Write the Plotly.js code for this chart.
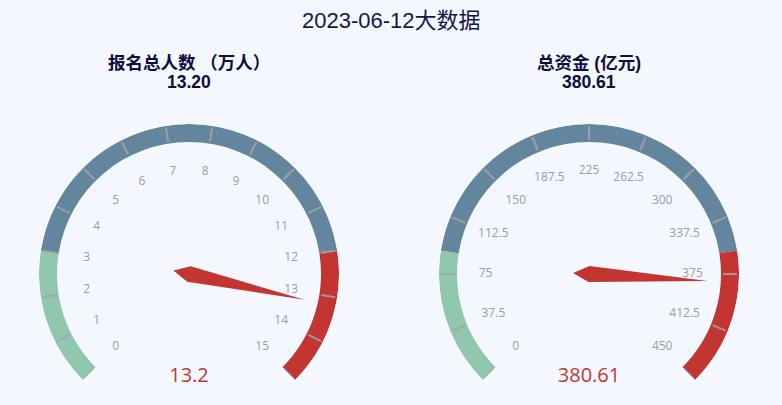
<!DOCTYPE html>
<html>
<head>
<meta charset="utf-8">
<script src="https://cdn.plot.ly/plotly-3.0.1.min.js"></script>
<style>
  html, body { margin: 0; padding: 0; background: #f4f7fe; }
  #chart { width: 782px; height: 405px; }
</style>
</head>
<body>
<div id="chart"></div>
<script>
// chart data
const chartTitle = '2023-06-12大数据';
const gaugeTitles = ['报名总人数 （万人）', '总资金 (亿元)'];
const gaugeSubtitles = ['13.20', '380.61'];
const gaugeValues = [13.2, 380.61];
const gaugeValueText = ['13.2', '380.61'];
const gaugeMax = [15, 450];
const ticksPeople = ['0', '1', '2', '3', '4', '5', '6', '7', '8', '9', '10', '11', '12', '13', '14', '15'];
const ticksMoney = ['0', '37.5', '75', '112.5', '150', '187.5', '225', '262.5', '300', '337.5', '375', '412.5', '450'];
const bandStops = [0, 0.2, 0.8, 1];
const bandColors = ['#91c7ae', '#63869e', '#c23531'];

const SPAN = 270;           // gauge sweeps from 225deg to -45deg, clockwise
const RING_IN = 0.88;
const NEEDLE_LEN = 0.79;
const LABEL_R = 0.69;
const R_PX = 150;           // outer ring radius in px
const INNER_PX = 125;       // radius of the full-circle subplot holding needle + value
const tickSets = [ticksPeople, ticksMoney];
const ringPlots = ['polar', 'polar2'];
const needlePlots = ['polar3', 'polar4'];
const centersX = [189, 589];
const centerY = 274;
const W = 782, H = 405;

const toTheta = (v, max) => v / max * SPAN;

function gaugeTraces(i) {
  const sp = ringPlots[i];
  const np = needlePlots[i];
  const max = gaugeMax[i];
  const labels = tickSets[i];
  const n = labels.length - 1;
  const traces = [];

  // coloured ring
  traces.push({
    type: 'barpolar', subplot: sp,
    r: bandColors.map(() => 1 - RING_IN),
    base: bandColors.map(() => RING_IN),
    theta: bandColors.map((_, k) => (bandStops[k] + bandStops[k + 1]) / 2 * SPAN),
    width: bandColors.map((_, k) => (bandStops[k + 1] - bandStops[k]) * SPAN),
    marker: { color: bandColors, line: { width: 0 } },
    hoverinfo: 'skip', showlegend: false
  });

  // split lines on the ring
  const tr = [], tt = [];
  labels.forEach((_, k) => {
    const th = k / n * SPAN;
    tr.push(0.893, 0.987, null);
    tt.push(th, th, null);
  });
  traces.push({
    type: 'scatterpolar', subplot: sp, mode: 'lines',
    r: tr, theta: tt,
    line: { color: 'rgba(165,165,165,0.85)', width: 2 },
    hoverinfo: 'skip', showlegend: false
  });

  // tick labels
  traces.push({
    type: 'scatterpolar', subplot: sp, mode: 'text',
    r: labels.map(() => LABEL_R),
    theta: labels.map((_, k) => k / n * SPAN),
    text: labels,
    textfont: { size: 12, color: '#9c9ca8', family: 'Open Sans, Noto Sans, sans-serif' },
    cliponaxis: false, hoverinfo: 'skip', showlegend: false
  });

  // needle (echarts-style pointer: back point 2*w behind centre, half-width w)
  const v = toTheta(gaugeValues[i], max);
  const w = 8 / R_PX;
  traces.push({
    type: 'scatterpolar', subplot: np, mode: 'lines',
    r: [2 * w, w, NEEDLE_LEN, w, 2 * w],
    theta: [v + 180, v - 90, v, v + 90, v + 180],
    fill: 'toself', fillcolor: '#c23531',
    line: { width: 0, color: '#c23531' },
    hoverinfo: 'skip', showlegend: false
  });

  // value under the gauge (straight down = 225 - 270 in gauge angles)
  traces.push({
    type: 'scatterpolar', subplot: np, mode: 'text',
    r: [103 / R_PX], theta: [225 - 270],
    text: [gaugeValueText[i]],
    textfont: { size: 20, color: '#c23531', family: 'Open Sans, Noto Sans, sans-serif' },
    cliponaxis: false, hoverinfo: 'skip', showlegend: false
  });

  return traces;
}

const angular = {
  visible: false, rotation: 225, direction: 'clockwise',
  showgrid: false, showline: false, ticks: ''
};

// ring subplot: sector box is 2R wide, R*(1+sin45) tall
function ringPolar(cx) {
  return {
    sector: [-45, 225],
    bgcolor: 'rgba(0,0,0,0)',
    radialaxis: { visible: false, range: [0, 1] },
    angularaxis: angular,
    domain: {
      x: [(cx - R_PX) / W, (cx + R_PX) / W],
      y: [(H - centerY - R_PX * Math.SQRT1_2) / H, (H - centerY + R_PX) / H]
    }
  };
}

// full circle subplot for needle, same scale as the ring
function needlePolar(cx) {
  return {
    bgcolor: 'rgba(0,0,0,0)',
    radialaxis: { visible: false, range: [0, INNER_PX / R_PX] },
    angularaxis: angular,
    domain: {
      x: [(cx - INNER_PX) / W, (cx + INNER_PX) / W],
      y: [(H - centerY - INNER_PX) / H, (H - centerY + INNER_PX) / H]
    }
  };
}

const titleFont = { size: 17.5, color: '#0c0c40', family: 'Liberation Sans, Noto Sans CJK SC, sans-serif' };

const layout = {
  width: W, height: H,
  margin: { l: 0, r: 0, t: 0, b: 0 },
  paper_bgcolor: '#f4f7fe',
  font: { family: 'Noto Sans CJK SC, Noto Sans, sans-serif' },
  polar: ringPolar(centersX[0]),
  polar2: ringPolar(centersX[1]),
  polar3: needlePolar(centersX[0]),
  polar4: needlePolar(centersX[1]),
  annotations: [
    {
      text: chartTitle, xref: 'paper', yref: 'paper', x: 0.5, y: 1 - 20 / H,
      xanchor: 'center', yanchor: 'middle', showarrow: false,
      font: { size: 22, color: '#16164a', family: 'Liberation Sans, Noto Sans CJK SC, sans-serif' }
    },
    ...gaugeTitles.map((t, i) => ({
      text: '<b>' + t + '</b>', xref: 'paper', yref: 'paper',
      x: centersX[i] / W, y: 1 - 63 / H,
      xanchor: 'center', yanchor: 'middle', showarrow: false, font: titleFont
    })),
    ...gaugeSubtitles.map((t, i) => ({
      text: '<b>' + t + '</b>', xref: 'paper', yref: 'paper',
      x: centersX[i] / W, y: 1 - 82 / H,
      xanchor: 'center', yanchor: 'middle', showarrow: false, font: titleFont
    }))
  ]
};

const data = [...gaugeTraces(0), ...gaugeTraces(1)];
Plotly.newPlot('chart', data, layout, { displayModeBar: false, staticPlot: true });
</script>
</body>
</html>
